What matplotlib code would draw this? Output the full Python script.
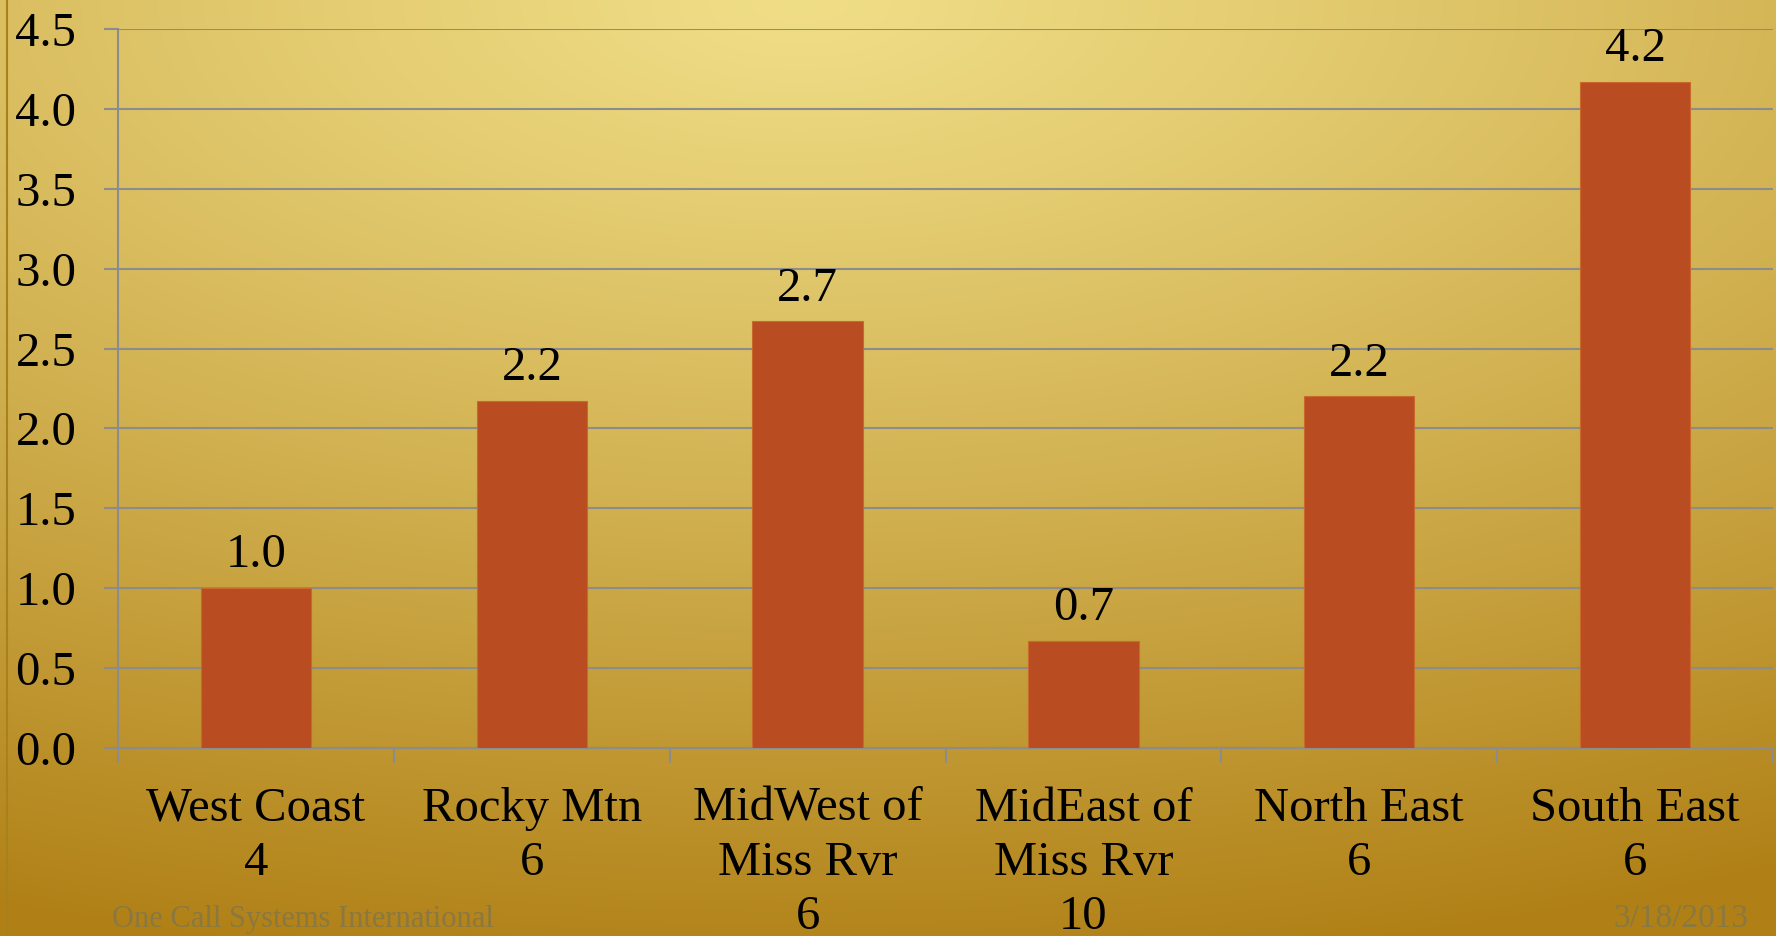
import numpy as np
from matplotlib import pyplot as plt
from matplotlib.lines import Line2D

regions = ["West Coast\n4", "Rocky Mtn\n6", "MidWest of\nMiss Rvr\n6",
           "MidEast of\nMiss Rvr\n10", "North East\n6", "South East\n6"]
values = [1.0, 2.17, 2.67, 0.67, 2.2, 4.17]
labels = ["1.0", "2.2", "2.7", "0.7", "2.2", "4.2"]
yticks = [0.0, 0.5, 1.0, 1.5, 2.0, 2.5, 3.0, 3.5, 4.0, 4.5]

plt.rcParams['font.family'] = ['Liberation Serif', 'DejaVu Serif']


def background(fig):
    # gold gradient, light at top centre, darker toward the bottom corners
    h, w = 240, 456
    yy, xx = np.mgrid[0:h, 0:w]
    x = xx / (w - 1)
    y = yy / (h - 1)
    t = np.sqrt(((x - 0.45) / 1.15) ** 2 + (y / 1.0) ** 2)
    t = np.clip(t / 1.05, 0, 1) ** 1.1
    light = np.array([240, 222, 135]) / 255
    dark = np.array([176, 128, 22]) / 255
    img = light[None, None, :] * (1 - t[..., None]) + dark[None, None, :] * t[..., None]
    bg = fig.add_axes([0, 0, 1, 1], zorder=-10)
    bg.imshow(img, aspect='auto', extent=[0, 1, 0, 1], interpolation='bicubic')
    bg.axis('off')


def draw():
    fig = plt.figure(figsize=(17.76, 9.36), dpi=100)
    background(fig)
    fig.add_artist(Line2D([7 / 1776, 7 / 1776], [0, 1], color='#a8801c', lw=1.5))

    ax = fig.add_axes([118 / 1776, 1 - 748 / 936, (1773 - 118) / 1776, (748 - 29) / 936])
    ax.set_facecolor('none')
    x = np.arange(len(regions))
    ax.bar(x, values, width=0.4, color='#b94d21', edgecolor='#c96a2c', linewidth=0.8, zorder=3)
    for xi, v, lab in zip(x, values, labels):
        ax.annotate(lab, (xi, v), xytext=(0, 15), textcoords='offset points',
                    ha='center', va='baseline', fontsize=35, color='black')

    ax.set_xlim(-0.5, len(regions) - 0.5)
    ax.set_ylim(0, 4.5)
    ax.set_yticks(yticks)
    ax.set_yticklabels([f"{v:.1f}" for v in yticks])
    ax.yaxis.grid(True, color='#8c8c8c', lw=1.5, zorder=0)
    ax.set_axisbelow(True)

    ax.set_xticks(np.arange(len(regions) + 1) - 0.5)
    ax.set_xticklabels([])
    ax.set_xticks(x, minor=True)
    ax.set_xticklabels(regions, minor=True, fontsize=35, linespacing=1.3)
    ax.tick_params(axis='x', which='major', direction='out', length=11, width=1.5, color='#8c8c8c')
    ax.tick_params(axis='x', which='minor', length=0, pad=28)
    ax.tick_params(axis='y', direction='out', length=10, width=1.5, color='#8c8c8c',
                   labelsize=35, pad=20)

    for s in ['top', 'right']:
        ax.spines[s].set_visible(False)
    for s in ['left', 'bottom']:
        ax.spines[s].set_color('#8c8c8c')
        ax.spines[s].set_linewidth(1.5)

    # footer, kept just inside the bottom edge
    fig.text(112 / 1776, 2 / 936, "One Call Systems International", fontsize=22,
             color='#8a7840', ha='left', va='bottom')
    fig.text(1748 / 1776, 2 / 936, "3/18/2013", fontsize=24,
             color='#8a7840', ha='right', va='bottom')

    fig.savefig("out.png", dpi=100)


if __name__ == "__main__":
    draw()
